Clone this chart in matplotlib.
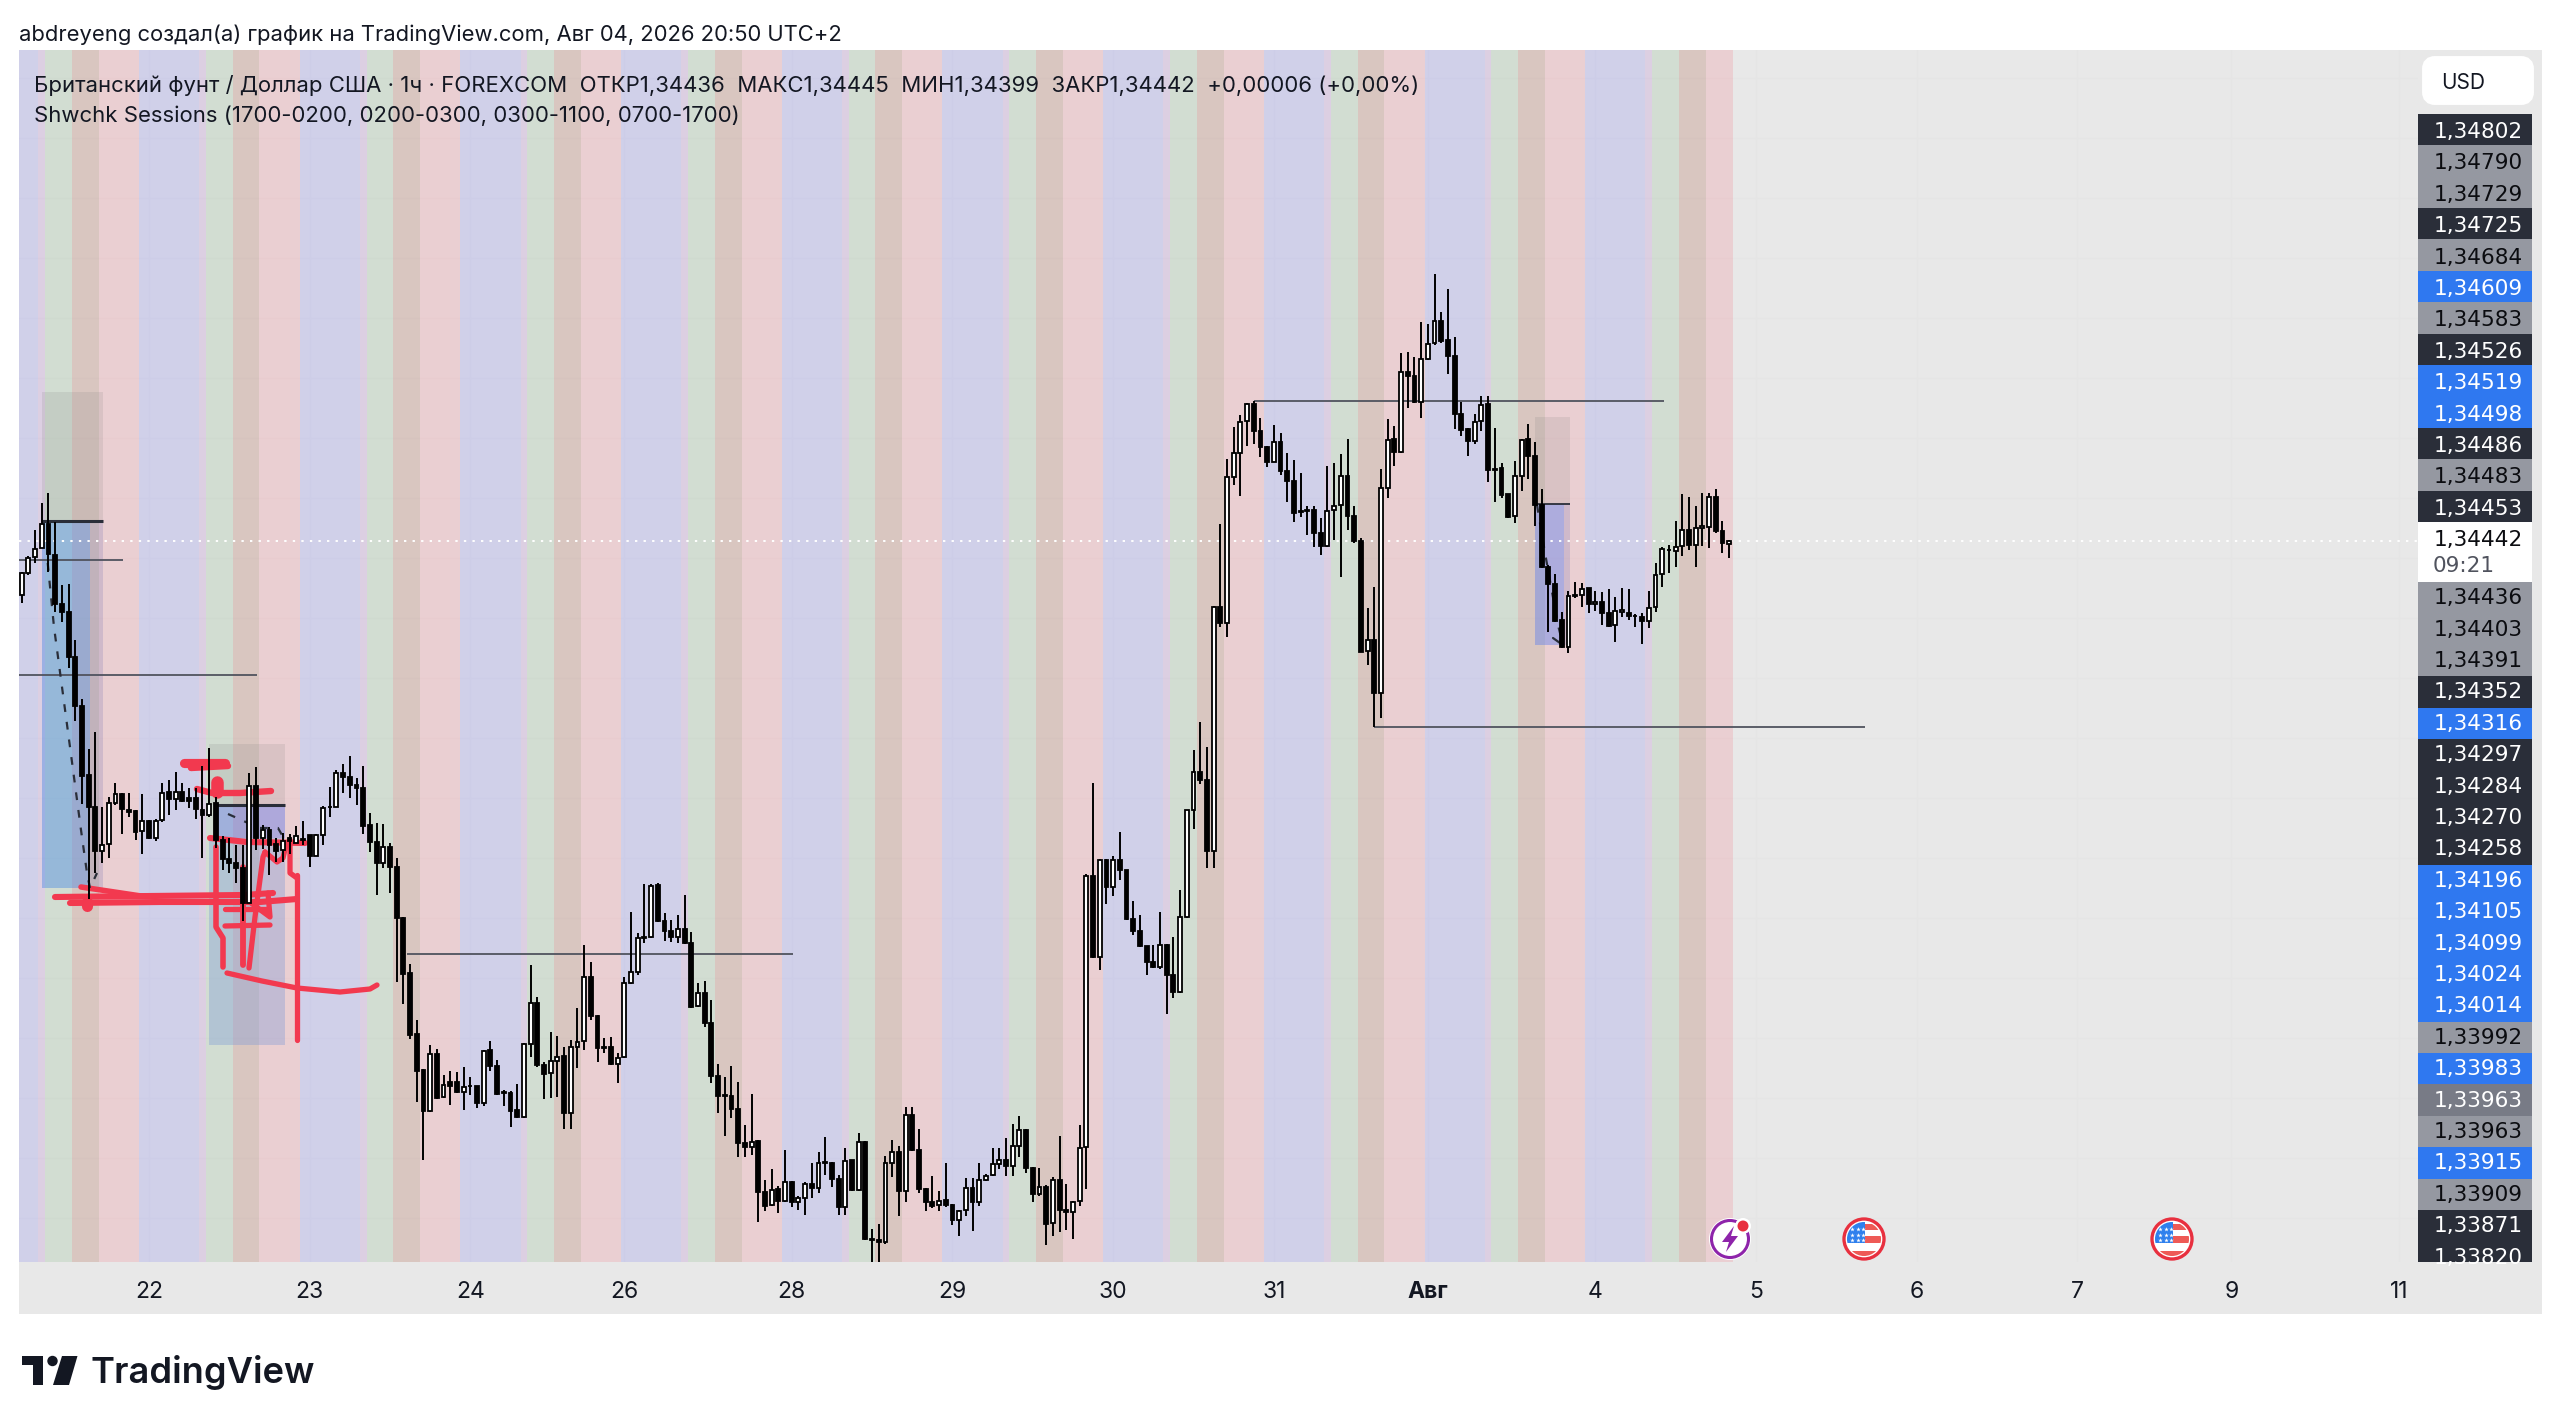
"""
GBP/USD 1h TradingView snapshot with session bands, position boxes and pen marks.
Output: out.png
"""
import numpy as np
import matplotlib
matplotlib.use("Agg")
import matplotlib.pyplot as plt
from matplotlib.patches import Rectangle, Circle, Polygon, FancyBboxPatch

plt.rcParams["font.family"] = ["Inter", "DejaVu Sans"]

# ── Candles, in 1e-5 of a dollar ──────────────────────────────────────────────
OPENS = [
    134307,134363,134402,134424,134484,134407,134285,134264,134153,134031,
    133858,133777,133668,133685,133787,133810,133770,133768,133718,133743,
    133699,133745,133814,133797,133816,133799,133799,133770,133757,133787,
    133695,133647,133638,133624,133537,133831,133699,133720,133685,133670,
    133699,133688,133698,133707,133656,133707,133777,133777,133862,133852,
    133832,133824,133733,133691,133637,133678,133628,133499,133362,133210,
    133120,133018,133160,133052,133089,133089,133066,133081,133080,133038,
    133170,133131,133064,133062,133020,133002,133184,133287,133132,133112,
    133143,133155,133013,133178,133193,133353,133256,133178,133178,133134,
    133152,133337,133366,133449,133452,133582,133493,133468,133452,133472,
    133437,133280,133313,133238,133106,133058,133056,133022,132937,132928,
    132942,132814,132782,132822,132793,132841,132789,132799,132834,132824,
    132887,132887,132847,132777,132894,132819,132940,132697,132694,132690,
    132887,132916,132817,133008,132920,132822,132790,132782,132795,132782,
    132745,132769,132826,132790,132846,132857,132885,132896,132879,132929,
    132971,132876,132811,132828,132738,132846,132769,132764,132793,132927,
    133604,133403,133646,133578,133646,133619,133497,133467,133429,133391,
    133378,133432,133357,133315,133503,133769,133866,133845,133668,134277,
    134238,134603,134662,134743,134785,134718,134677,134641,134689,134618,
    134593,134518,134520,134520,134462,134430,134520,134532,134605,134506,
    134443,134168,134195,134063,134574,134697,134664,134866,134855,134791,
    134897,134937,134993,134945,134905,134759,134722,134693,134743,134784,
    134622,134624,134559,134505,134606,134697,134656,134532,134377,134334,
    134245,134177,134307,134307,134324,134285,134291,134262,134232,134266,
    134263,134256,134252,134243,134277,134360,134421,134417,134430,134470,
    134432,134476,134478,134552,134468,134436,
]
HIGHS = [
    134365,134405,134470,134537,134563,134491,134332,134334,134195,134047,
    133922,133964,133777,133803,133837,133813,133812,133770,133810,133745,
    133747,133837,133845,133864,133837,133824,133824,133880,133924,133803,
    133705,133699,133682,133682,133862,133878,133732,133728,133699,133712,
    133710,133730,133742,133707,133710,133781,133828,133870,133885,133905,
    133849,133880,133763,133737,133735,133688,133649,133503,133385,133245,
    133122,133182,133172,133107,133118,133116,133128,133103,133081,133170,
    133192,133145,133070,133068,133085,133187,133382,133302,133141,133214,
    133205,133178,133195,133274,133432,133389,133258,133199,133202,133162,
    133353,133514,133463,133585,133585,133588,133512,133495,133507,133557,
    133466,133337,133343,133295,133135,133102,133131,133091,132982,133060,
    132945,132845,132872,132830,132920,132843,132805,132841,132887,132916,
    132952,132890,132857,132924,132896,132962,132943,132723,132734,132904,
    132945,132929,133027,133027,132973,132824,132856,132817,132887,132784,
    132770,132850,132850,132887,132859,132925,132925,132951,132986,133004,
    132973,132878,132876,132833,132852,132955,132834,132793,132982,133611,
    133837,133648,133648,133655,133714,133621,133543,133508,133431,133433,
    133515,133434,133453,133569,133771,133920,133990,133927,134279,134485,
    134647,134727,134757,134787,134793,134749,134679,134732,134713,134663,
    134645,134612,134530,134530,134499,134630,134638,134660,134697,134530,
    134449,134274,134328,134622,134747,134730,134913,134916,134902,134991,
    134985,135110,135016,135072,134952,134791,134724,134760,134805,134805,
    134724,134637,134561,134642,134697,134735,134691,134572,134382,134360,
    134266,134318,134341,134337,134326,134318,134316,134322,134303,134324,
    134322,134260,134262,134318,134388,134427,134432,134492,134560,134553,
    134530,134563,134562,134572,134492,134445,
]
LOWS = [
    134288,134357,134388,134424,134366,134266,134241,134124,133993,133785,
    133547,133613,133637,133649,133782,133710,133753,133695,133659,133697,
    133693,133741,133757,133770,133791,133774,133747,133649,133753,133674,
    133620,133613,133587,133493,133537,133670,133672,133607,133641,133641,
    133660,133687,133682,133628,133655,133682,133753,133777,133812,133799,
    133782,133709,133666,133557,133624,133562,133341,133285,133197,133041,
    132895,133016,133048,133049,133032,133062,133020,133057,133026,133030,
    133118,133057,133030,132978,133001,132999,133153,133127,133047,133051,
    133053,132972,132972,133124,133170,133245,133141,133162,133132,133088,
    133149,133335,133357,133438,133449,133491,133443,133441,133438,133435,
    133276,133278,133228,133088,133012,132956,133001,132902,132903,132907,
    132741,132768,132780,132763,132791,132778,132770,132757,132799,132813,
    132857,132828,132757,132757,132818,132817,132695,132630,132630,132685,
    132852,132755,132789,132918,132813,132767,132776,132767,132778,132732,
    132704,132755,132717,132780,132843,132854,132872,132856,132856,132903,
    132863,132789,132804,132683,132705,132714,132719,132697,132780,132822,
    133400,133369,133534,133556,133594,133495,133457,133427,133357,133376,
    133372,133260,133299,133313,133501,133723,133835,133626,133624,134228,
    134203,134582,134555,134680,134685,134653,134628,134639,134607,134541,
    134491,134503,134457,134427,134407,134428,134445,134353,134470,134437,
    134164,134132,133978,133999,134549,134630,134662,134774,134788,134751,
    134895,134933,134937,134860,134722,134705,134656,134685,134717,134591,
    134541,134549,134501,134488,134568,134597,134480,134374,134216,134241,
    134175,134163,134301,134278,134262,134267,134232,134228,134191,134252,
    134245,134228,134185,134224,134266,134327,134362,134378,134405,134420,
    134378,134431,134424,134462,134412,134399,
]
CLOSES = [
    134363,134399,134422,134484,134410,134285,134264,134153,134031,133856,
    133777,133668,133682,133787,133809,133772,133766,133716,133743,133699,
    133743,133813,133797,133815,133793,133793,133772,133757,133785,133695,
    133647,133638,133624,133537,133831,133699,133720,133682,133668,133693,
    133693,133705,133696,133655,133707,133774,133778,133862,133852,133832,
    133824,133731,133691,133637,133678,133628,133499,133360,133207,133118,
    133018,133160,133050,133082,133081,133066,133077,133079,133038,133168,
    133131,133059,133062,133018,133003,133184,133287,133132,133110,133142,
    133153,133013,133178,133191,133353,133256,133174,133174,133134,133149,
    133337,133366,133449,133453,133581,133493,133468,133452,133472,133437,
    133278,133312,133238,133106,133056,133056,133022,132937,132928,132941,
    132814,132781,132820,132793,132841,132789,132799,132834,132824,132887,
    132889,132847,132777,132893,132819,132940,132697,132694,132690,132887,
    132914,132817,133008,132920,132822,132790,132780,132793,132782,132745,
    132767,132826,132789,132846,132854,132885,132896,132879,132929,132971,
    132876,132811,132828,132736,132846,132769,132766,132790,132925,133604,
    133403,133646,133578,133646,133619,133497,133467,133429,133391,133378,
    133432,133357,133315,133503,133769,133866,133845,133668,134277,134238,
    134603,134662,134741,134784,134718,134677,134641,134689,134618,134593,
    134513,134515,134518,134462,134430,134518,134530,134605,134506,134443,
    134166,134195,134063,134574,134695,134664,134864,134855,134791,134897,
    134935,134993,134943,134905,134759,134720,134693,134741,134782,134620,
    134620,134557,134503,134606,134695,134656,134532,134377,134334,134243,
    134177,134306,134304,134322,134284,134291,134262,134230,134268,134269,
    134255,134254,134243,134276,134357,134422,134419,134428,134470,134432,
    134474,134479,134552,134468,134437,134442,
]

# Time axis
TICK_BARS = [19, 43, 67, 90, 115, 139, 163, 187, 210, 235, 259, 283, 307, 330, 355]
TICK_LABELS = ["22", "23", "24", "26", "28", "29", "30", "31", "Авг", "4", "5", "6", "7", "9", "11"]

# Session bands: start and end offset in bars from the 00:00 of a cycle
SESSION_START = [17.5, 26.5, 27.5, 31.5]
SESSION_END = [26.5, 27.5, 35.5, 41.5]
SESSION_COLOR = ["#7070F2", "#AC6BCA", "#7AB17A", "#F76B7A"]

# Stacked price tags on the right: text, kind
TAG_TOP = ["1,34802", "1,34790", "1,34729", "1,34725", "1,34684", "1,34609", "1,34583",
           "1,34526", "1,34519", "1,34498", "1,34486", "1,34483", "1,34453"]
TAG_TOP_KIND = ["d", "g", "g", "d", "g", "b", "g", "d", "b", "b", "d", "g", "d"]
TAG_LOW = ["1,34436", "1,34403", "1,34391", "1,34352", "1,34316", "1,34297", "1,34284",
           "1,34270", "1,34258", "1,34196", "1,34105", "1,34099", "1,34024", "1,34014",
           "1,33992", "1,33983", "1,33963", "1,33963", "1,33915", "1,33909", "1,33871",
           "1,33820"]
TAG_LOW_KIND = ["g", "g", "g", "d", "b", "d", "d", "d", "d", "b", "b", "b", "b", "b",
                "g", "b", "s", "g", "b", "g", "d", "d"]

# Horizontal rays: price, first bar, last bar
RAY_PRICE = [134395, 134107, 133411, 134792, 133977]
RAY_START = [-0.4, -0.4, 57.5, 184.0, 202.0]
RAY_END = [15.2, 35.2, 115.2, 245.3, 275.3]

W, H = 2560, 1425
BG = "#e8e8e8"
INK = "#131722"
RED = "#f2394f"
DARK = "#2a2e39"
TAG_FONT = "DejaVu Sans"
TAG_SIZE = 15.6
TAG_FILL = {"d": DARK, "g": "#9598a1", "b": "#2f78f0", "s": "#787b86"}
TAG_TEXT = {"d": "white", "g": "#0b0c10", "b": "white", "s": "white"}
BAR_W = 6.696
BAR_X0 = 21.7
PANE_L, PANE_R, PANE_T, PANE_B = 19, 2418, 50, 1262

# ── Figure and axes ───────────────────────────────────────────────────────────
fig = plt.figure(figsize=(W / 100, H / 100), dpi=100, facecolor="white")

# full-figure axes counted in screen pixels, for the app chrome and the pen marks
px = fig.add_axes([0, 0, 1, 1], zorder=0)
px.set_xlim(0, W)
px.set_ylim(H, 0)
px.axis("off")
px.add_patch(Rectangle((19, 50), 2523, 1264, facecolor=BG, edgecolor="none"))

ax = fig.add_axes([PANE_L / W, 1 - PANE_B / H, (PANE_R - PANE_L) / W, (PANE_B - PANE_T) / H], zorder=1)
ax.patch.set_alpha(0)
for s in ax.spines.values():
    s.set_visible(False)
ax.set_xlim((PANE_L - BAR_X0) / BAR_W, (PANE_R - BAR_X0) / BAR_W)
ax.set_ylim(1.32640, 1.35670)

ax.set_xticks(TICK_BARS)
ax.set_xticklabels(TICK_LABELS, fontsize=16.5, color=INK)
for t, lab in zip(ax.get_xticklabels(), TICK_LABELS):
    if lab == "Авг":
        t.set_fontweight("bold")
ax.set_yticks(np.arange(1.3275, 1.3565, 0.0015))
ax.tick_params(axis="both", length=0, labelleft=False)
ax.tick_params(axis="x", pad=13.5)
ax.grid(True, color="#e5e5e5", linewidth=1.0, zorder=0)
ax.set_axisbelow(True)

# ── Sessions ──────────────────────────────────────────────────────────────────
n_bars = len(CLOSES)
last_edge = n_bars - 0.5
for cycle in range(-1, 11):
    for start, end, color in zip(SESSION_START, SESSION_END, SESSION_COLOR):
        a = start + 24 * cycle
        b = min(end + 24 * cycle, last_edge)
        if a < last_edge:
            ax.axvspan(a, b, color=color, alpha=0.2, linewidth=0, zorder=1)

# ── Position boxes ────────────────────────────────────────────────────────────
def box(x0, x1, top, bottom, color, alpha):
    ax.add_patch(Rectangle((x0, bottom / 1e5), x1 - x0, (top - bottom) / 1e5,
                           facecolor=color, alpha=alpha, edgecolor="none", zorder=2))

box(3.0, 12.14, 134815, 134493, "#787878", 0.15)
box(3.0, 10.27, 134493, 133575, "#3c82e6", 0.40)
box(10.27, 12.14, 134493, 133575, "#6464aa", 0.20)
box(27.97, 39.3, 133935, 133782, "#787878", 0.15)
box(29.2, 39.3, 133782, 133700, "#556eeb", 0.40)
box(27.97, 39.3, 133700, 133182, "#7896d7", 0.35)
box(226.0, 231.2, 134752, 134535, "#787878", 0.15)
box(226.0, 230.3, 134535, 134182, "#6482eb", 0.45)
box(230.3, 231.2, 134535, 134182, "#6464aa", 0.20)

ax.hlines(np.array([134493, 133782]) / 1e5, [3.0, 29.2], [12.14, 39.3], color=DARK, linewidth=2.2, zorder=2.5)
ax.hlines(134535 / 1e5, 226.0, 231.2, color=DARK, linewidth=1.3, zorder=2.5)
ax.hlines(np.array(RAY_PRICE) / 1e5, RAY_START, RAY_END, color="#50535e", linewidth=1.3, zorder=2.5)
ax.axhline(CLOSES[-1] / 1e5, color="white", linewidth=1.4, linestyle=(0, (1.2, 3.2)), zorder=2.6)

# ── Pen marks, in screen pixels ───────────────────────────────────────────────
def pen(xs, ys, lw=4.2, color=RED, ls="-"):
    ax.plot(xs, ys, transform=px.transData, color=color, linewidth=lw, linestyle=ls,
            solid_capstyle="round", solid_joinstyle="round", clip_on=False, zorder=3)

pen([184, 225], [763, 763], 6.6)
pen([191, 228], [768, 766], 4.6)
pen([197, 212, 240, 271], [789, 793, 793, 791], 4.6)
pen([217, 217], [782, 792], 9.0)
pen([210, 247, 305], [838, 842, 843], 4.4)
pen([55, 150, 244, 273], [897, 896, 895, 893], 4.4)
pen([70, 160, 260, 297], [903, 902, 902, 899], 4.4)
pen([81, 141], [887, 896], 4.0)
pen([87, 87], [902, 906], 8.0)
pen([216, 216, 223, 223], [847, 927, 938, 967], 4.0)
pen([225, 268], [909, 909], 3.8)
pen([268, 270, 247], [893, 917, 900], 3.8)
pen([225, 270], [926, 925], 3.8)
pen([243, 243], [867, 965], 4.2)
pen([249, 255, 263, 265], [968, 917, 857, 852], 3.8)
pen([265, 277, 283, 286], [852, 862, 858, 845], 3.8)
pen([290, 290, 297], [840, 873, 878], 3.8)
pen([297, 297], [875, 1040], 3.8)
pen([227, 262, 297, 340, 370, 377], [973, 981, 988, 992, 989, 985], 3.8)

# dashed sketch lines
dash = (0, (3.5, 4.5))
pen([47.7, 54, 62, 70, 81, 87, 90, 97], [563, 627, 687, 747, 830, 873, 888, 873], 1.6, DARK, dash)
pen([228, 237, 248, 255, 278, 282], [814, 818, 823, 828, 828, 835], 1.6, DARK, dash)
pen([1537, 1545, 1558, 1561], [505, 553, 625, 637], 1.6, DARK, dash)
pen([1553, 1560], [638, 643], 1.6, DARK)

# ── Candles ───────────────────────────────────────────────────────────────────
x = np.arange(n_bars)
o = np.array(OPENS) / 1e5
c = np.array(CLOSES) / 1e5
h = np.array(HIGHS) / 1e5
l = np.array(LOWS) / 1e5
up = c >= o
ax.vlines(x, l, h, color="black", linewidth=1.4, zorder=4)
ax.bar(x, np.abs(c - o), bottom=np.minimum(o, c), width=0.58,
       color=np.where(up, "white", "black"), edgecolor="black", linewidth=1.3, zorder=5)

# ── Chrome on top of the pane ─────────────────────────────────────────────────
top = fig.add_axes([0, 0, 1, 1], zorder=2)
top.set_xlim(0, W)
top.set_ylim(H, 0)
top.axis("off")

top.text(19, 34.5, "abdreyeng создал(а) график на TradingView.com, Авг 04, 2026 20:50 UTC+2",
         fontsize=15.83, color=INK, va="center", ha="left")
top.text(33.5, 85,
         "Британский фунт / Доллар США · 1ч · FOREXCOM  ОТКР1,34436  МАКС1,34445  МИН1,34399  ЗАКР1,34442  +0,00006 (+0,00%)",
         fontsize=15.92, color=INK, va="center", ha="left")
top.text(33.5, 116, "Shwchk Sessions (1700-0200, 0200-0300, 0300-1100, 0700-1700)",
         fontsize=15.92, color=INK, va="center", ha="left")

# USD button
top.add_patch(FancyBboxPatch((2429, 63), 98, 35, boxstyle="round,pad=0,rounding_size=6",
                             mutation_scale=1, facecolor="white", edgecolor="white", linewidth=10))
top.text(2441, 83, "USD", fontsize=15, color=INK, va="center", ha="left")

# price tags
ROW = 31.4
for k, (txt, kind) in enumerate(zip(TAG_TOP, TAG_TOP_KIND)):
    y = 113.7 + k * ROW
    top.add_patch(Rectangle((2418, y), 114, ROW + 0.4, facecolor=TAG_FILL[kind], edgecolor="none"))
    top.text(2523, y + ROW / 2 + 2.5, txt, fontsize=TAG_SIZE, family=TAG_FONT, color=TAG_TEXT[kind],
             va="center", ha="right")

top.add_patch(Rectangle((2418, 522), 114, 60, facecolor="white", edgecolor="none"))
top.text(2523, 540, "1,34442", fontsize=TAG_SIZE, family=TAG_FONT, color="#0b0c10", va="center", ha="right")
top.text(2433, 566, "09:21", fontsize=TAG_SIZE, family=TAG_FONT, color="#50535e", va="center", ha="left")

for k, (txt, kind) in enumerate(zip(TAG_LOW, TAG_LOW_KIND)):
    y = 582 + k * ROW
    top.add_patch(Rectangle((2418, y), 114, ROW + 0.4, facecolor=TAG_FILL[kind], edgecolor="none"))
    top.text(2523, y + ROW / 2 + 0.5, txt, fontsize=TAG_SIZE, family=TAG_FONT, color=TAG_TEXT[kind],
             va="center", ha="right")
top.add_patch(Rectangle((2418, 1262), 114, 50, facecolor=BG, edgecolor="none"))

# event icons
def flag_icon(cx, cy):
    r = 20
    ring = Circle((cx, cy), r, facecolor="white", edgecolor="#e8303f", linewidth=2.4, zorder=6)
    top.add_patch(ring)
    clip = Circle((cx, cy), r - 3, transform=top.transData)
    parts = [Rectangle((cx - 17, cy + 12), 34, 6, facecolor="#ee5a56", edgecolor="none", zorder=7),
             Rectangle((cx + 1, cy - 3), 16, 7, facecolor="#ee5a56", edgecolor="none", zorder=7),
             Rectangle((cx + 1, cy - 15), 16, 6, facecolor="#ee5a56", edgecolor="none", zorder=7),
             Rectangle((cx - 17, cy - 17), 18, 21, facecolor="#2f80ed", edgecolor="none", zorder=8)]
    for p in parts:
        top.add_patch(p)
        p.set_clip_path(clip)
    for sx in (-12, -6, 0 - 1):
        for sy in (-10, -4, 1):
            top.plot(cx + sx, cy + sy, marker="*", ms=3.4, color="white", mew=0, zorder=9)

flag_icon(1864, 1239)
flag_icon(2172, 1239)

top.add_patch(Circle((1730, 1239), 21, facecolor="white", edgecolor="none", zorder=6))
top.add_patch(Circle((1730, 1239), 18.5, facecolor="none", edgecolor="#8e24aa", linewidth=2.2, zorder=6))
top.add_patch(Polygon([(1734, 1226), (1722, 1242), (1729, 1242), (1726, 1252), (1738, 1236), (1731, 1236)],
                      facecolor="#8e24aa", edgecolor="none", zorder=7))
top.add_patch(Circle((1743, 1226), 8, facecolor="white", edgecolor="none", zorder=7))
top.add_patch(Circle((1743, 1226), 5.5, facecolor="#e8303f", edgecolor="none", zorder=8))

# footer logo
LOGO = "#131722"
top.add_patch(Polygon([(22, 1356), (43, 1356), (43, 1385), (33, 1385), (33, 1365), (22, 1365)],
                      facecolor=LOGO, edgecolor="none"))
top.add_patch(Circle((52.5, 1361), 5.2, facecolor=LOGO, edgecolor="none"))
top.add_patch(Polygon([(62, 1356), (77.5, 1356), (69, 1385), (53, 1385)], facecolor=LOGO, edgecolor="none"))
top.text(90, 1372, "TradingView", fontsize=26.1, fontweight="semibold", color=LOGO, va="center", ha="left")

fig.savefig("out.png", dpi=100, facecolor="white")
